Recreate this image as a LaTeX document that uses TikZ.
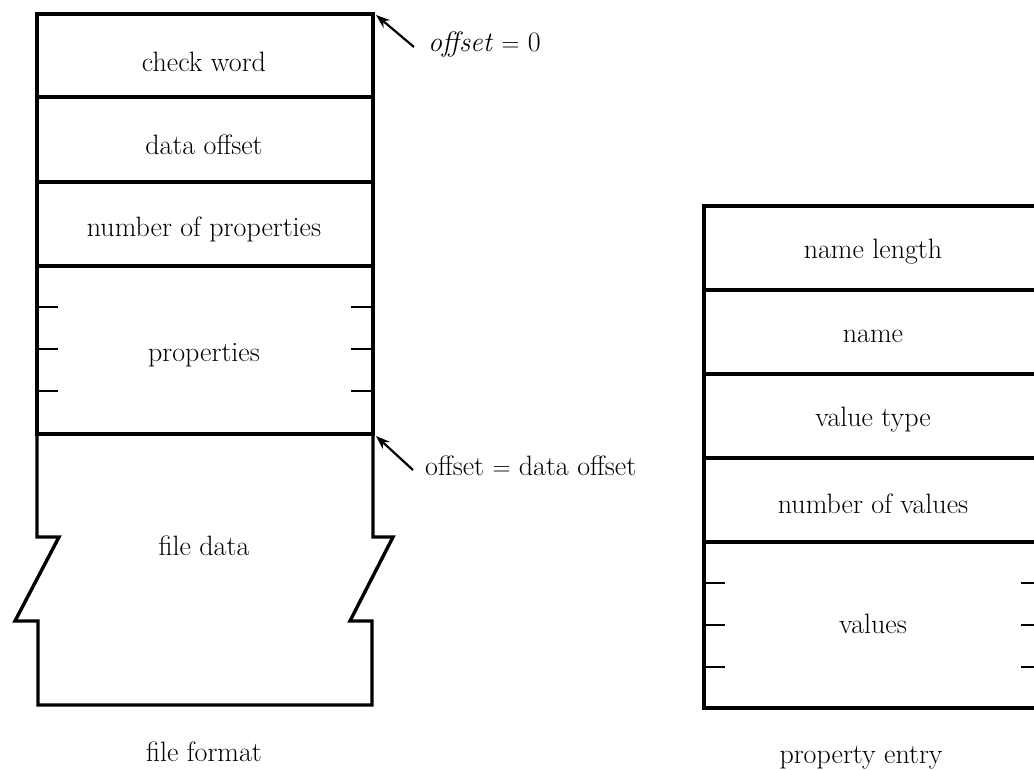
\documentclass[tikz,border=0pt]{standalone}
\usetikzlibrary{arrows.meta}
\begin{document}
\begin{tikzpicture}[x=1pt,y=-1pt,
  frame/.style={line width=3.4pt,line join=miter,line cap=rect},
  tick/.style={line width=2.8pt},
  lbl/.style={inner sep=0pt,font=\fontsize{28}{32}\selectfont},
  arr/.style={line width=2.2pt,-{Stealth[length=14pt,width=10pt]}}]
\useasboundingbox (0,0) rectangle (1034,770);
% ---------- left: file format ----------
\draw[frame] (37,434) -- (37,14) -- (373,14) -- (373,434);
\draw[frame] (37,97) -- (373,97);
\draw[frame] (37,182) -- (373,182);
\draw[frame] (37,266) -- (373,266);
\draw[frame] (37,434) -- (373,434);
\draw[frame] (37,434) -- (37,537) -- (59,537) -- (15,621) -- (38,621) -- (38,705)
   -- (372,705) -- (372,621) -- (350,621) -- (393,537) -- (373,537) -- (373,434);
\foreach \y in {307,349,391}{
  \draw[tick] (37,\y) -- (58,\y);
  \draw[tick] (351,\y) -- (373,\y);
}
\node[lbl] (cw) at (204,62) {check word};
\node[lbl] (dof) at (204,145) {data offset};
\node[lbl] (nprop) at (204,229) {number of properties};
\node[lbl] (props) at (204,355) {properties};
\node[lbl] (fdata) at (204,546) {file data};
\node[lbl] (ff) at (204,752) {file format};
\coordinate (c0) at (376,15);
\coordinate (c1) at (376,436);
\node[lbl,anchor=west] (off0) at (428,45) {\textit{offset} $=$ 0};
\node[lbl,anchor=west] (off1) at (425,466) {offset $=$ data offset};
\draw[arr] ([xshift=-14pt,yshift=-2pt]off0.west) -- (c0);
\draw[arr] ([xshift=-12pt,yshift=-4pt]off1.west) -- (c1);
% ---------- right: property entry ----------
\draw[frame] (1040,206) -- (704,206) -- (704,708) -- (1040,708);
\foreach \y in {290,374,458,542}{
  \draw[frame] (704,\y) -- (1040,\y);
}
\foreach \y in {583,625,667}{
  \draw[tick] (704,\y) -- (725,\y);
  \draw[tick] (1021,\y) -- (1040,\y);
}
\node[lbl] (nl) at (873,252) {name length};
\node[lbl] (nm) at (873,336) {name};
\node[lbl] (vt) at (873,420) {value type};
\node[lbl] (nv) at (873,504) {number of values};
\node[lbl] (vals) at (873,624) {values};
\node[lbl] (pe) at (861,758) {property entry};
\end{tikzpicture}
\end{document}
